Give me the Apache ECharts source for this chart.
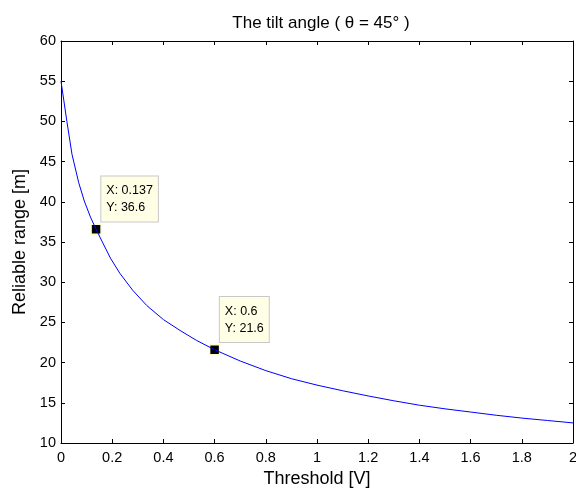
<!DOCTYPE html>
<html>
<head>
<meta charset="utf-8">
<script src="https://cdn.jsdelivr.net/npm/echarts@6/dist/echarts.min.js"></script>
<style>
html,body{margin:0;padding:0;background:#fff;}
#c{width:576px;height:491px;}
</style>
</head>
<body>
<div id="c"></div>
<script>
var thresholdV = [0, 0.023, 0.043, 0.069, 0.091, 0.115, 0.137, 0.16, 0.193, 0.23, 0.28, 0.335, 0.4, 0.465, 0.53, 0.6, 0.7, 0.8, 0.9, 1.0, 1.1, 1.2, 1.3, 1.4, 1.5, 1.6, 1.7, 1.8, 1.9, 2.0];
var rangeM = [55, 50, 45.9, 42.4, 40.1, 38.1, 36.6, 35.1, 33.0, 31.1, 29.0, 27.1, 25.35, 24.0, 22.75, 21.6, 20.2, 19.0, 18.0, 17.2, 16.5, 15.85, 15.25, 14.7, 14.25, 13.85, 13.45, 13.1, 12.8, 12.5];
var tipX = [0.137, 0.6];
var tipY = [36.6, 21.6];
var titleText = 'The tilt angle ( \u03b8 = 45\u00b0 )';
var xName = 'Threshold [V]';
var yName = 'Reliable range [m]';

var curve = thresholdV.map(function (x, i) { return [x, rangeM[i]]; });
var tips = tipX.map(function (x, i) { return [x, tipY[i]]; });

var font = 'Arial, "Liberation Sans", sans-serif';
var axisCommon = {
  axisLine: { show: true, onZero: false, lineStyle: { color: '#000', width: 1 } },
  axisTick: { show: true, inside: true, length: 4, lineStyle: { color: '#000' } },
  splitLine: { show: false }
};

var chart = echarts.init(document.getElementById('c'), null, { renderer: 'canvas' });
chart.setOption({
  animation: false,
  backgroundColor: '#fff',
  title: {
    text: titleText,
    left: 316, top: 10, textAlign: 'center',
    textStyle: { fontFamily: font, fontSize: 17, fontWeight: 'normal', color: '#000' }
  },
  grid: { left: 61, right: 3, top: 41, bottom: 48, containLabel: false, outerBoundsMode: 'none' },
  xAxis: [
    Object.assign({
      type: 'value', position: 'bottom', min: 0, max: 2, interval: 0.2,
      name: xName, nameLocation: 'middle', nameGap: 27,
      nameTextStyle: { fontFamily: font, fontSize: 18, color: '#000' },
      axisLabel: { fontFamily: font, fontSize: 14.5, color: '#000', margin: 7, showMaxLabel: true }
    }, axisCommon),
    Object.assign({
      type: 'value', position: 'top', min: 0, max: 2, interval: 0.2,
      axisLabel: { show: false }
    }, axisCommon)
  ],
  yAxis: [
    Object.assign({
      type: 'value', position: 'left', min: 10, max: 60, interval: 5,
      name: yName, nameLocation: 'middle', nameGap: 19,
      nameTextStyle: { fontFamily: font, fontSize: 18, color: '#000' },
      axisLabel: { fontFamily: font, fontSize: 14.5, color: '#000', margin: 5 }
    }, axisCommon),
    Object.assign({
      type: 'value', position: 'right', min: 10, max: 60, interval: 5,
      axisLabel: { show: false }
    }, axisCommon)
  ],
  series: [
    {
      type: 'line', data: curve, xAxisIndex: 0, yAxisIndex: 0,
      showSymbol: false, smooth: false,
      lineStyle: { color: '#0000ff', width: 1 }, silent: true
    },
    {
      type: 'scatter', data: tips, xAxisIndex: 0, yAxisIndex: 0,
      symbol: 'rect', symbolSize: 10,
      itemStyle: { color: '#000', opacity: 1, borderColor: '#ffffcc', borderWidth: 1.5 },
      label: {
        show: true, position: [11, -47],
        formatter: function (p) { return 'X: ' + p.value[0] + '\nY: ' + p.value[1]; },
        fontFamily: font, fontSize: 12.5, color: '#000', lineHeight: 17,
        backgroundColor: '#ffffe6', borderColor: '#c8c8c8', borderWidth: 1,
        padding: [6, 5, 5, 5], align: 'left', verticalAlign: 'top'
      }
    }
  ]
});
</script>
</body>
</html>
